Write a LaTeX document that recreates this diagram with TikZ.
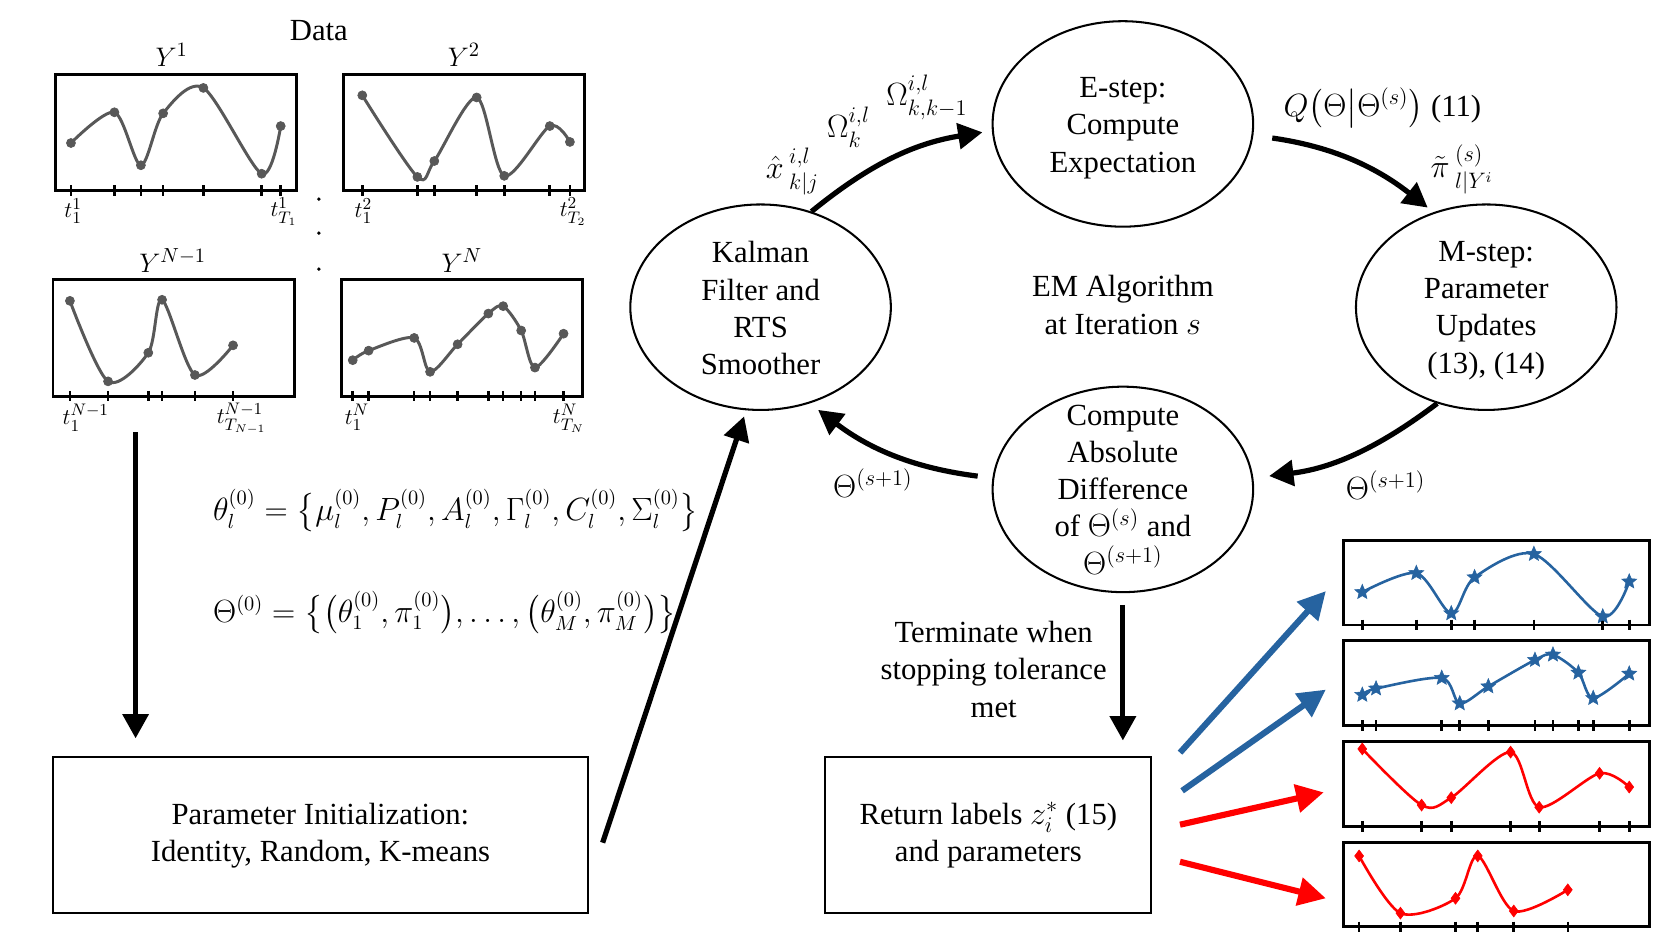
\documentclass[tikz,border=0pt]{standalone}
\usepackage{amsmath}
\usepackage{fontspec}
\setmainfont{Liberation Serif}
\usetikzlibrary{arrows.meta,shapes.geometric,calc,plotmarks}

\definecolor{datagray}{RGB}{88,88,88}
\definecolor{clusterblue}{RGB}{38,99,160}
\definecolor{clusterred}{RGB}{255,0,0}

% filled five point star for the blue clusters
\pgfdeclareplotmark{fstar}{%
  \pgfpathmoveto{\pgfpointpolar{90}{\pgfplotmarksize}}%
  \pgfpathlineto{\pgfpointpolar{126}{0.45\pgfplotmarksize}}%
  \pgfpathlineto{\pgfpointpolar{162}{\pgfplotmarksize}}%
  \pgfpathlineto{\pgfpointpolar{198}{0.45\pgfplotmarksize}}%
  \pgfpathlineto{\pgfpointpolar{234}{\pgfplotmarksize}}%
  \pgfpathlineto{\pgfpointpolar{270}{0.45\pgfplotmarksize}}%
  \pgfpathlineto{\pgfpointpolar{306}{\pgfplotmarksize}}%
  \pgfpathlineto{\pgfpointpolar{342}{0.45\pgfplotmarksize}}%
  \pgfpathlineto{\pgfpointpolar{18}{\pgfplotmarksize}}%
  \pgfpathlineto{\pgfpointpolar{54}{0.45\pgfplotmarksize}}%
  \pgfpathclose
  \pgfusepathqfillstroke}

\tikzset{
  databox/.style={draw, line width=1.5pt, minimum width=4.56cm, minimum height=2.2cm, inner sep=0pt},
  clusterbox/.style={draw, line width=1.6pt, minimum width=5.78cm, minimum height=1.6cm, inner sep=0pt},
  stepnode/.style={draw, ellipse, line width=1.1pt, minimum width=4.92cm, minimum height=3.88cm, inner sep=0pt},
  stepbox/.style={draw, line width=1.1pt, minimum height=2.94cm, inner sep=0pt, align=center},
  tickmark/.style={line width=1.4pt},
  datacurve/.style={datagray, line width=1.6pt, mark=*, mark size=2.4pt, mark options={fill=datagray, line width=0.4pt}},
  bluecurve/.style={clusterblue, line width=1.4pt, mark=fstar, mark size=4.2pt, mark options={fill=clusterblue, line width=0.3pt}},
  redcurve/.style={clusterred, line width=1.4pt, mark=diamond*, mark size=3.2pt, mark options={fill=clusterred, line width=0.3pt}},
  flowarrow/.style={line width=2.8pt, -{Triangle[length=0.46cm, width=0.48cm]}},
  outarrow/.style={line width=3.3pt, -{Triangle[length=0.52cm, width=0.52cm]}},
  dataname/.style={font=\fontsize{15}{17}\selectfont},
  timename/.style={font=\fontsize{13}{15}\selectfont},
  initeq/.style={anchor=west, font=\fontsize{16}{19}\selectfont},
}

\begin{document}
\begin{tikzpicture}[x=0.02cm, y=-0.02cm, font=\fontsize{16.5}{20}\selectfont]
  \useasboundingbox (0,0) rectangle (1568,882);

  % Data panels
  \node (datatitle) at (301,29) {Data};

  % Y^1
  \node[databox] (yone) at (166,125) {};
  \node[dataname] (yonelab) at (162,52) {$Y^1$};
  \foreach \t in {67,108,133,154,192,247,265}
    \draw[tickmark] (\t,175) -- (\t,185);
  \draw[datacurve] plot[smooth] coordinates {(67,135) (108,106) (133,156) (154,107) (192,83) (247,164) (265,119)};
  \node[timename] (yonefirst) at (69,199) {$t_1^1$};
  \node[timename] (yonelast) at (268,200) {$t_{T_1}^1$};

  % Y^2
  \node[databox] (ytwo) at (438,125) {};
  \node[dataname] (ytwolab) at (438,52) {$Y^2$};
  \foreach \t in {342,394,410,450,476,519,538}
    \draw[tickmark] (\t,175) -- (\t,185);
  \draw[datacurve] plot[smooth] coordinates {(342,90) (394,167) (410,152) (450,92) (476,166) (519,119) (538,134)};
  \node[timename] (ytwofirst) at (343,199) {$t_1^2$};
  \node[timename] (ytwolast) at (541,200) {$t_{T_2}^2$};

  % vertical dots
  \foreach \d in {188,220,254}
    \fill (301,\d) circle (1.8);

  % Y^{N-1}
  \node[databox] (ynmone) at (164,319) {};
  \node[dataname] (ynmonelab) at (163,246) {$Y^{N-1}$};
  \foreach \t in {66,102,140,153,184,220}
    \draw[tickmark] (\t,369) -- (\t,379);
  \draw[datacurve] plot[smooth] coordinates {(66,284) (102,360) (140,333) (153,283) (184,354) (220,326)};
  \node[timename] (ynmonefirst) at (81,394) {$t_1^{N-1}$};
  \node[timename] (ynmonelast) at (228,395) {$t_{T_{N-1}}^{N-1}$};

  % Y^N
  \node[databox] (yn) at (436,319) {};
  \node[dataname] (ynlab) at (436,246) {$Y^N$};
  \foreach \t in {333,348,391,406,432,461,475,492,505,532}
    \draw[tickmark] (\t,369) -- (\t,379);
  \draw[datacurve] plot[smooth] coordinates {(333,340) (348,331) (391,319) (406,351) (432,325) (461,296) (475,289) (492,312) (505,347) (532,315)};
  \node[timename] (ynfirst) at (337,394) {$t_1^N$};
  \node[timename] (ynlast) at (537,395) {$t_{T_N}^N$};

  % Initialization
  \node[stepbox, minimum width=10.1cm] (init) at (302.5,788.5) {Parameter Initialization:\\Identity, Random, K-means};
  \coordinate (dataout) at (128,408);
  \draw[flowarrow, shorten >=0.34cm] (dataout) -- (dataout |- init.north);
  \node[initeq] (thetainit) at (195,482) {$\theta_l^{(0)} = \bigl\{\mu_l^{(0)}, P_l^{(0)}, A_l^{(0)}, \Gamma_l^{(0)}, C_l^{(0)}, \Sigma_l^{(0)}\bigr\}$};
  \node[initeq] (Thetainit) at (195,578) {$\Theta^{(0)} = \bigl\{\bigl(\theta_1^{(0)}, \pi_1^{(0)}\bigr), \ldots, \bigl(\theta_M^{(0)}, \pi_M^{(0)}\bigr)\bigr\}$};

  % EM cycle
  \node[stepnode] (kalman) at (718,290) {};
  \node[align=center] (kalmantext) at ($(kalman)+(0,1)$) {Kalman\\Filter and\\RTS\\Smoother};
  \node[stepnode] (estep) at (1060,117) {};
  \node[align=center] (esteptext) at ($(estep)+(0,4)$) {E-step:\\Compute\\Expectation};
  \node[stepnode] (mstep) at (1403,290) {};
  \node[align=center] (msteptext) at ($(mstep)+(0,3)$) {M-step:\\Parameter\\Updates\\(13), (14)};
  \node[stepnode] (diff) at (1060,462) {};
  \node[align=center] (difftext) at (diff) {Compute\\Absolute\\Difference\\of $\Theta^{(s)}$ and\\$\Theta^{(s+1)}$};
  \node[align=center] (emlabel) at (1060,288) {EM Algorithm\\at Iteration $s$};

  \draw[flowarrow, shorten >=0.12cm] ($(init.east)+(13,7)$) -- (kalman.262);
  \draw[flowarrow, shorten >=0.18cm] (kalman.62) to[bend left=15] (estep.183);
  \draw[flowarrow, shorten <=0.36cm, shorten >=0.14cm] (estep.355) to[bend left=15] (mstep.119);
  \draw[flowarrow, shorten >=0.3cm] (mstep.243) to[bend left=15] (diff.5);
  \draw[flowarrow, shorten <=0.28cm, shorten >=0.2cm] (diff.175) to[bend left=15] (kalman.297);

  % arrow labels
  \node (xhatlab) at (748,162) {$\hat{x}\,{}^{i,l}_{k|j}$};
  \node (omegaklab) at (801,120) {$\Omega_k^{i,l}$};
  \node (omegakklab) at (875,92) {$\Omega_{k,k-1}^{i,l}$};
  \node (qlab) at (1305,102) {$Q\bigl(\Theta\big|\Theta^{(s)}\bigr)$ (11)};
  \node (pilab) at (1380,160) {$\tilde{\pi}\,{}^{(s)}_{l|Y^i}$};
  \node (thetanextR) at (1308,458) {$\Theta^{(s+1)}$};
  \node (thetanextL) at (824,456) {$\Theta^{(s+1)}$};

  % Termination
  \node[stepbox, minimum width=6.16cm] (ret) at (933,788.5) {Return labels $z_i^*$ (15)\\and parameters};
  \node[align=center] (stoplabel) at (938,632) {Terminate when\\stopping tolerance\\met};
  \draw[flowarrow, shorten <=0.22cm, shorten >=0.3cm] (diff.south) -- (diff.south |- ret.north);

  % Clustered results
  \node[clusterbox] (resone) at (1412.5,550) {};
  \foreach \t in {1286,1337,1370,1392,1448,1513,1538}
    \draw[tickmark] (\t,585) -- (\t,595);
  \draw[bluecurve] plot[smooth] coordinates {(1286,559) (1337,541) (1370,579) (1392,545) (1448,523) (1513,582) (1538,549)};

  \node[clusterbox] (restwo) at (1412.5,645) {};
  \foreach \t in {1286,1299,1361,1378,1405,1449,1466,1490,1504,1538}
    \draw[tickmark] (\t,680) -- (\t,690);
  \draw[bluecurve] plot[smooth] coordinates {(1286,656) (1299,650) (1361,640) (1378,664) (1405,648) (1449,623) (1466,618) (1490,635) (1504,659) (1538,636)};

  \node[clusterbox] (resthree) at (1412.5,740) {};
  \foreach \t in {1286,1342,1370,1426,1453,1510,1538}
    \draw[tickmark] (\t,775) -- (\t,785);
  \draw[redcurve] plot[smooth] coordinates {(1286,707) (1342,760) (1370,753) (1426,710) (1453,762) (1510,730) (1538,743)};

  \node[clusterbox] (resfour) at (1412.5,835) {};
  \foreach \t in {1283,1322,1374,1395,1429,1480}
    \draw[tickmark] (\t,870) -- (\t,880);
  \draw[redcurve] plot[smooth] coordinates {(1283,808) (1322,862) (1374,848) (1395,808) (1429,860) (1480,840)};

  \draw[outarrow, clusterblue] ($(ret.east)+(26,-78)$) -- ($(resone.west)+(-15,8)$);
  \draw[outarrow, clusterblue] ($(ret.east)+(28,-42)$) -- ($(restwo.west)+(-15,6)$);
  \draw[outarrow, clusterred] ($(ret.east)+(26,-10)$) -- ($(resthree.west)+(-17,8)$);
  \draw[outarrow, clusterred] ($(ret.east)+(26,25)$) -- ($(resfour.west)+(-15,13)$);
\end{tikzpicture}
\end{document}
